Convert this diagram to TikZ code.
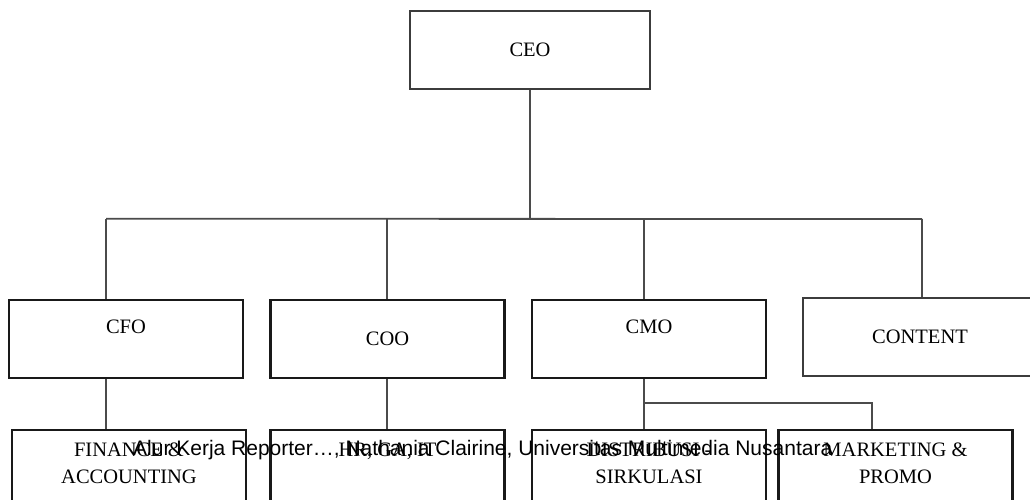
\documentclass[tikz,border=0pt]{standalone}
\usepackage{fontspec}
\setmainfont{Liberation Serif}
\newfontfamily\footfont{Liberation Sans}
\usetikzlibrary{positioning}
\definecolor{boxline}{RGB}{25,25,25}
\definecolor{thinline}{RGB}{60,60,60}
\definecolor{linkline}{RGB}{75,75,75}
\tikzstyle{post} = [rectangle, draw=boxline, line width=2.6pt, minimum width=234pt, minimum height=78pt, inner sep=0pt, font=\fontsize{20.5}{27}\selectfont, align=center]
\tikzstyle{thinpost} = [post, draw=thinline, line width=1.9pt]
\tikzstyle{raised} = [text depth=24pt]
\tikzstyle{link} = [draw=linkline, line width=1.8pt]

\begin{document}
\begin{tikzpicture}[x=1pt,y=-1pt]
\useasboundingbox (0,0) rectangle (1030,499);
\clip (0,0) rectangle (1030,499);
% top
\node[thinpost, minimum width=240pt] (ceo) at (530,50) {CEO};
% second row
\node[post, raised] (cfo) at (126,339) {CFO};
\node[post] (coo) at (387.5,339) {COO};
\node[post, raised] (cmo) at (649,339) {CMO};
\node[thinpost] (content) at (920,337) {CONTENT};
% third row
\node[post, text depth=11pt] (fin) at (129,469) {FINANCE \&\\ACCOUNTING};
\node[post, text depth=38pt] (hr) at (387.5,469) {HR, GA, IT};
\node[post, text depth=11pt] (dist) at (649,469) {DISTRIBUSI -\\SIRKULASI};
\node[post, text depth=11pt] (mkt) at (895.5,469) {MARKETING \&\\PROMO};
% lines
\draw[link] ([xshift=-20]cfo.north) -- ++(0,-80) coordinate (busl);
\draw[link] ([xshift=2]content.north) -- ++(0,-78) coordinate (busr);
\draw[link] (busl) -- (busr);
\draw[link] (ceo.south) -- (ceo.south |- busl);
\draw[link] ([xshift=-0.5]coo.north) -- ([xshift=-0.5]coo.north |- busl);
\draw[link] ([xshift=-5]cmo.north) -- ([xshift=-5]cmo.north |- busl);
\draw[link] ([xshift=-20]cfo.south) -- ([xshift=-20]cfo.south |- fin.north);
\draw[link] ([xshift=-0.5]coo.south) -- ([xshift=-0.5]coo.south |- hr.north);
\draw[link] ([xshift=-5]cmo.south) -- ([xshift=-5]cmo.south |- dist.north);
\coordinate (split) at (644,403);
\draw[link] (split) -| ([xshift=-23.5]mkt.north);
% caption over the picture
\node[font=\footfont\fontsize{21}{25}\selectfont, anchor=base west, inner sep=0pt] (credit) at (133,455) {Alur Kerja Reporter…, Nathania Clairine, Universitas Multimedia Nusantara};
\end{tikzpicture}
\end{document}
